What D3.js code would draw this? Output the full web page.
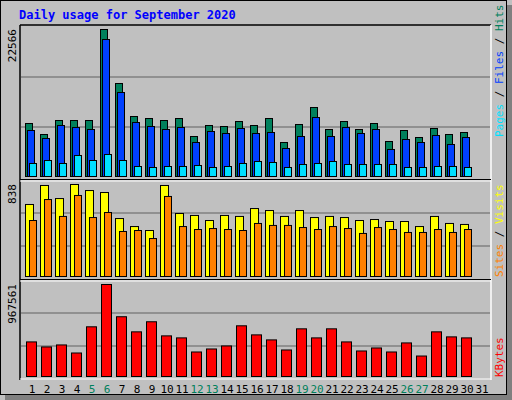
<!DOCTYPE html>
<html><head><meta charset="utf-8">
<script src="https://cdn.jsdelivr.net/npm/d3@7"></script>
<style>body{margin:0;background:#fff}</style></head>
<body><script>
const days = d3.range(1,32);
const weekends = [5,6,12,13,19,20,26,27];
const hits = [8136,6447,8596,8596,8596,22566,14276,9210,8903,8596,8903,6140,7829,7675,8443,7829,8903,5219,7982,10592,7215,8443,7215,8136,5373,7061,5987,7368,6447,6754];
const files = [7061,5833,7829,7522,7215,21030,12894,8289,7675,7215,7522,5219,6908,6601,7368,6601,6754,4298,6140,9057,6140,7522,6601,7215,4145,5680,5219,6294,4912,5987];
const pages = [1996,2456,1996,3224,2456,3377,2456,1535,1382,1535,1535,1689,1382,1535,1996,2303,2149,1382,1842,1996,2303,1842,1842,1842,1842,1382,1382,1535,1535,1382];
const sites = [656,829,710,838,783,765,528,455,419,829,574,556,510,556,547,619,601,547,601,537,547,537,510,519,501,501,455,547,483,474];
const visits = [510,701,547,738,537,583,410,419,346,729,455,428,437,428,419,483,465,465,446,428,455,437,392,446,428,401,401,428,401,428];
const kbytes = [363700,310700,331900,247200,522600,967561,628500,469600,575600,427300,406100,257800,289500,321300,533200,437800,384900,278900,501400,406100,501400,363700,268400,300100,257800,353100,215400,469600,416700,406100];
const maxLabels = ["22566","838","967561"];

const W=512,H=400;
const svg=d3.select("body").append("svg").attr("width",W).attr("height",H);
const font="DejaVu Sans Mono, monospace";
svg.append("rect").attr("width",W).attr("height",H).attr("fill","#c0c0c0");
svg.append("rect").attr("x",0.5).attr("y",0.5).attr("width",W-6).attr("height",H-6).attr("fill","none").attr("stroke","#000");
svg.append("rect").attr("x",W-5).attr("y",5).attr("width",5).attr("height",H-5).attr("fill","#808080");
svg.append("rect").attr("x",5).attr("y",H-5).attr("width",W-5).attr("height",5).attr("fill","#808080");
svg.append("text").attr("x",19).attr("y",19).attr("font-family",font).attr("font-weight","bold").attr("font-size",12).attr("fill","#0000ff").text("Daily usage for September 2020");

const x=d3.scaleLinear().domain([1,32]).range([25,490]);

const panels=[
 {top:25,bot:180,base:176,maxY:29,max:22566,grid:[77,127],label:maxLabels[0]},
 {top:180,bot:280,base:276,maxY:184,max:838,grid:[213,246],label:maxLabels[1]},
 {top:280,bot:379,base:376,maxY:284,max:967561,grid:[313,346],label:maxLabels[2]}];
panels.forEach(p=>{
  p.y=d3.scaleLinear().domain([0,p.max]).range([p.base,p.maxY]);
  p.grid.forEach(g=>svg.append("line").attr("x1",21).attr("x2",490).attr("y1",g).attr("y2",g).attr("stroke","#808080").attr("stroke-width",1.5));
  svg.append("text").attr("transform",`translate(16,${p.maxY}) rotate(-90)`).attr("text-anchor","end")
    .attr("font-family",font).attr("font-size",11).attr("fill","#000").text(p.label);
});
function bars(p,data,off,w,color){
  svg.append("g").selectAll("rect").data(data).join("rect")
   .attr("x",(d,i)=>x(i+1)+off+0.5).attr("y",d=>p.y(d)+0.5).attr("width",w).attr("height",d=>p.base-p.y(d))
   .attr("fill",color).attr("stroke","#000").attr("stroke-width",1);
}
bars(panels[0],hits,0,7,"#00805c");
bars(panels[0],files,2,7,"#0040ff");
bars(panels[0],pages,4,7,"#00e0ff");
bars(panels[1],sites,0,8,"#ffff00");
bars(panels[1],visits,4,7,"#ff8000");
bars(panels[2],kbytes,1,10,"#ff0000");

// frames
svg.append("line").attr("x1",20).attr("x2",20).attr("y1",25).attr("y2",380).attr("stroke","#000").attr("stroke-width",1.5);
svg.append("line").attr("x1",20).attr("x2",491).attr("y1",25).attr("y2",25).attr("stroke","#000").attr("stroke-width",1.5);
svg.append("line").attr("x1",491).attr("x2",491).attr("y1",25).attr("y2",380).attr("stroke","#fff").attr("stroke-width",1.5);
[[179.5,"#000"],[181,"#fff"],[279.5,"#000"],[281,"#fff"],[379,"#fff"]].forEach(([yy,c])=>
  svg.append("line").attr("x1",20).attr("x2",491).attr("y1",yy).attr("y2",yy).attr("stroke",c).attr("stroke-width",1));

svg.append("g").selectAll("text").data(days).join("text")
 .attr("x",d=>x(d)+7).attr("y",393).attr("text-anchor","middle").attr("font-family",font).attr("font-size",11)
 .attr("fill",d=>weekends.includes(d)?"#00805c":"#000").text(d=>d);

function legend(y,parts){
  const t=svg.append("text").attr("transform",`translate(503,${y}) rotate(-90)`).attr("font-family",font).attr("font-size",11);
  parts.forEach(([s,c])=>t.append("tspan").attr("fill",c).text(s));
}
legend(137,[["Pages","#00e0ff"],[" / ","#000"],["Files","#0040ff"],[" / ","#000"],["Hits","#00805c"]]);
legend(277,[["Sites","#ff8000"],[" / ","#000"],["Visits","#ffff00"]]);
legend(377,[["KBytes","#ff0000"]]);
</script></body></html>
